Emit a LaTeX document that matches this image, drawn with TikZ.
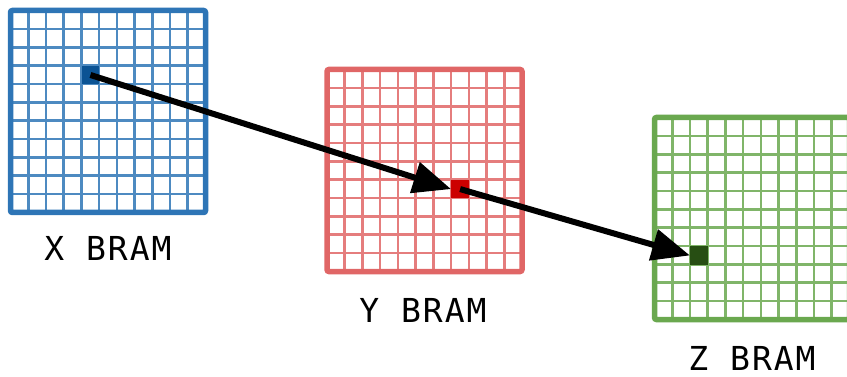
\documentclass[tikz,border=0pt]{standalone}
\usepackage{fontspec}
\newfontfamily\brammono[LetterSpace=6]{DejaVu Sans Mono}
\usetikzlibrary{positioning, arrows.meta}

\definecolor{xline}{HTML}{2E75B6}
\definecolor{xfill}{HTML}{0B5394}
\definecolor{yline}{HTML}{E06666}
\definecolor{yfill}{HTML}{CC0000}
\definecolor{zline}{HTML}{6AA84F}
\definecolor{zfill}{HTML}{274E13}

% one BRAM: #1 colour, #2 x, #3 y (north west corner of the border)
\newcommand{\bramgrid}[3]{%
  \foreach \i in {1,...,10} {
    \draw[gridline, draw=#1!85] ({#2+\i*195/11}, #3) -- ++(0, 202);
    \draw[gridline, draw=#1!85] (#2, {#3+\i*202/11}) -- ++(195, 0);
  }
}

\begin{document}
\begin{tikzpicture}[
    x=1pt, y=-1pt,
    gridline/.style={line width=2.6pt},
    border/.style={line width=5.5pt, rounded corners=2pt},
    hl/.style={inner sep=0pt, minimum width=17.7pt, minimum height=18.4pt, anchor=north west},
    lbl/.style={font=\brammono\fontsize{33}{33}\selectfont, inner sep=0pt},
    arr/.style={line width=6pt, -{Triangle[length=38pt, width=31pt]}},
]
\useasboundingbox (0,0) rectangle (847,377);

%% -- X BRAM ---------------------------------------------------------------
\bramgrid{xline}{10.5}{10.5}
\node[hl, fill=xfill] (xcell) at ({10.5+4*195/11}, {10.5+3*202/11}) {};
\draw[border, draw=xline] (10.5,10.5) rectangle ++(195,202);
\node[lbl] (xlbl) at (108, 248.5) {X BRAM};

%% -- Y BRAM ---------------------------------------------------------------
\bramgrid{yline}{327}{69.5}
\node[hl, fill=yfill] (ycell) at ({327+7*195/11}, {69.5+6*202/11}) {};
\draw[border, draw=yline] (327,69.5) rectangle ++(195,202);
\node[lbl] (ylbl) at (423, 310) {Y BRAM};

%% -- Z BRAM ---------------------------------------------------------------
\bramgrid{zline}{654.5}{117.5}
\node[hl, fill=zfill] (zcell) at ({654.5+2*195/11}, {117.5+7*202/11}) {};
\draw[border, draw=zline] (654.5,117.5) rectangle ++(195,202);
\node[lbl] (zlbl) at (752, 358) {Z BRAM};

%% -- Data flow ------------------------------------------------------------
\draw[arr] (xcell.center) -- (ycell.west);
\draw[arr] (ycell.center) -- (zcell.west);

\end{tikzpicture}
\end{document}
